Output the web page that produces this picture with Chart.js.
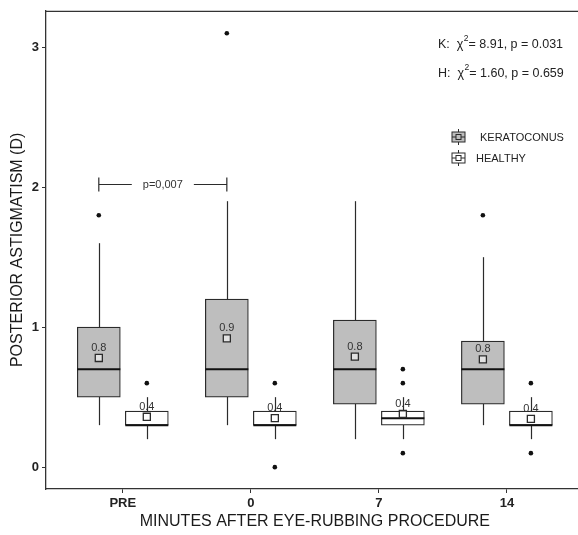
<!DOCTYPE html>
<html>
<head>
<meta charset="utf-8">
<script src="https://cdn.jsdelivr.net/npm/chart.js@4.4.1/dist/chart.umd.min.js"></script>
<style>
  html, body { margin: 0; padding: 0; background: #fff; overflow: hidden; }
  #wrap { width: 590px; height: 535px; position: relative; }
</style>
</head>
<body>
<div id="wrap"><canvas id="astigChart"></canvas></div>
<script>
const categories = ['PRE', '0', '7', '14'];
const xPositions = [1, 2, 3, 4];
const yTicks = [0, 1, 2, 3];

// keratoconus boxes
const kerLow = [0.3, 0.3, 0.2, 0.3];
const kerQ1 = [0.5, 0.5, 0.45, 0.45];
const kerMedian = [0.7, 0.7, 0.7, 0.7];
const kerQ3 = [1.0, 1.2, 1.05, 0.9];
const kerHigh = [1.6, 1.9, 1.9, 1.5];
const kerMean = [0.78, 0.92, 0.79, 0.77];
const kerMeanLabels = ['0.8', '0.9', '0.8', '0.8'];
const kerOutliers = [[1.8], [3.1], [], [1.8]];

// healthy boxes
const hLow = [0.2, 0.2, 0.2, 0.2];
const hQ1 = [0.3, 0.3, 0.3, 0.3];
const hMedian = [0.3, 0.3, 0.35, 0.3];
const hQ3 = [0.4, 0.4, 0.4, 0.4];
const hHigh = [0.5, 0.5, 0.5, 0.5];
const hMean = [0.36, 0.35, 0.38, 0.345];
const hMeanLabels = ['0.4', '0.4', '0.4', '0.4'];
const hOutliers = [[0.6], [0.6, 0.0], [0.7, 0.6, 0.1], [0.6, 0.1]];

const statLines = [
    { pre: 'K:  \u03c7', post: '= 8.91, p = 0.031' },
    { pre: 'H:  \u03c7', post: '= 1.60, p = 0.659' }
];
const bracketValue = 2.02;
const bracketText = 'p=0,007';

const dodge = 0.1875;
const FONT = "'Liberation Sans', Arial, sans-serif";
const INK = '#2b2b2b';

function boxes(q1, q3, shift) {
    return xPositions.map((x, i) => ({ x: x + shift, y: [q1[i], q3[i]] }));
}
function points(vals, shift) {
    return xPositions.map((x, i) => ({ x: x + shift, y: vals[i] }));
}
function outlierPoints(list, shift) {
    const out = [];
    list.forEach((arr, i) => arr.forEach(v => out.push({ x: xPositions[i] + shift, y: v })));
    return out;
}

const groups = [
    { shift: -dodge, low: kerLow, high: kerHigh, median: kerMedian, mean: kerMean, labels: kerMeanLabels },
    { shift: dodge, low: hLow, high: hHigh, median: hMedian, mean: hMean, labels: hMeanLabels }
];

const boxExtras = {
    id: 'boxExtras',
    beforeDatasetsDraw(chart) {
        const { ctx, scales: { x, y } } = chart;
        ctx.save();
        ctx.strokeStyle = INK;
        ctx.lineWidth = 1.2;
        groups.forEach(g => {
            xPositions.forEach((p, i) => {
                const px = Math.round(x.getPixelForValue(p + g.shift)) + 0.5;
                ctx.beginPath();
                ctx.moveTo(px, y.getPixelForValue(g.low[i]));
                ctx.lineTo(px, y.getPixelForValue(g.high[i]));
                ctx.stroke();
            });
        });
        ctx.restore();
    },
    afterDatasetDraw(chart, args) {
        if (args.meta.type !== 'bar') return;
        const g = groups[args.index];
        const { ctx, scales: { y } } = chart;
        ctx.save();
        ctx.strokeStyle = '#111';
        ctx.lineWidth = 2;
        args.meta.data.forEach((bar, i) => {
            const half = bar.width / 2;
            const py = y.getPixelForValue(g.median[i]);
            ctx.beginPath();
            ctx.moveTo(bar.x - half, py);
            ctx.lineTo(bar.x + half, py);
            ctx.stroke();
        });
        ctx.restore();
    },
    afterDraw(chart) {
        const { ctx, chartArea: a, scales: { x, y } } = chart;
        ctx.save();

        // top frame line
        ctx.strokeStyle = '#333';
        ctx.lineWidth = 1.3;
        ctx.beginPath();
        ctx.moveTo(a.left, a.top + 0.5);
        ctx.lineTo(a.right, a.top + 0.5);
        ctx.stroke();

        // mean labels
        ctx.fillStyle = '#333';
        ctx.font = '11px ' + FONT;
        ctx.textAlign = 'center';
        ctx.textBaseline = 'middle';
        groups.forEach(g => {
            xPositions.forEach((p, i) => {
                ctx.fillText(g.labels[i], x.getPixelForValue(p + g.shift), y.getPixelForValue(g.mean[i]) - 10);
            });
        });

        // significance bracket
        const bx1 = x.getPixelForValue(xPositions[0] - dodge);
        const bx2 = x.getPixelForValue(xPositions[1] - dodge);
        const by = Math.round(y.getPixelForValue(bracketValue)) + 0.5;
        const mid = (bx1 + bx2) / 2;
        ctx.font = '11px ' + FONT;
        const gap = ctx.measureText(bracketText).width / 2 + 11;
        ctx.strokeStyle = INK;
        ctx.lineWidth = 1.2;
        ctx.beginPath();
        ctx.moveTo(bx1, by); ctx.lineTo(mid - gap, by);
        ctx.moveTo(mid + gap, by); ctx.lineTo(bx2, by);
        ctx.moveTo(bx1, by - 7); ctx.lineTo(bx1, by + 7);
        ctx.moveTo(bx2, by - 7); ctx.lineTo(bx2, by + 7);
        ctx.stroke();
        ctx.fillStyle = '#333';
        ctx.fillText(bracketText, mid, by);

        // test statistics
        ctx.textAlign = 'left';
        ctx.fillStyle = '#222';
        statLines.forEach((s, k) => {
            const ty = 45 + k * 29;
            ctx.font = '12.5px ' + FONT;
            let tx = 438;
            ctx.fillText(s.pre, tx, ty);
            tx += ctx.measureText(s.pre).width;
            ctx.font = '8.5px ' + FONT;
            ctx.fillText('2', tx + 0.5, ty - 6);
            tx += ctx.measureText('2').width + 0.5;
            ctx.font = '12.5px ' + FONT;
            ctx.fillText(s.post, tx, ty);
        });

        // legend
        const legendItems = [
            { label: 'KERATOCONUS', fill: '#bebebe', ty: 137, tx: 480 },
            { label: 'HEALTHY', fill: '#ffffff', ty: 158, tx: 476 }
        ];
        legendItems.forEach(it => {
            const cx = 458.5, cy = it.ty;
            ctx.strokeStyle = INK;
            ctx.lineWidth = 1;
            ctx.beginPath();
            ctx.moveTo(cx, cy - 8); ctx.lineTo(cx, cy + 8);
            ctx.stroke();
            ctx.fillStyle = it.fill;
            ctx.fillRect(cx - 6.5, cy - 5, 13, 10);
            ctx.strokeRect(cx - 6.5, cy - 5, 13, 10);
            ctx.beginPath();
            ctx.moveTo(cx - 6.5, cy); ctx.lineTo(cx + 6.5, cy);
            ctx.stroke();
            ctx.fillStyle = it.fill;
            ctx.fillRect(cx - 2.5, cy - 2.5, 5, 5);
            ctx.strokeRect(cx - 2.5, cy - 2.5, 5, 5);
            ctx.fillStyle = '#222';
            ctx.font = '11px ' + FONT;
            ctx.textBaseline = 'middle';
            ctx.fillText(it.label, it.tx, cy + 1);
        });

        // axis titles
        ctx.fillStyle = '#1a1a1a';
        ctx.font = '16px ' + FONT;
        ctx.textAlign = 'center';
        ctx.fillText('MINUTES AFTER EYE-RUBBING PROCEDURE', (a.left + a.right) / 2, 522);
        ctx.translate(18, (a.top + a.bottom) / 2);
        ctx.rotate(-Math.PI / 2);
        ctx.fillText('POSTERIOR ASTIGMATISM (D)', 0, 0);

        ctx.restore();
    }
};

const ctx = document.getElementById('astigChart').getContext('2d');

const astigChart = new Chart(ctx, {
    type: 'bar',
    data: {
        datasets: [
            {
                label: 'KERATOCONUS',
                data: boxes(kerQ1, kerQ3, -dodge),
                backgroundColor: '#bebebe',
                borderColor: INK,
                borderWidth: 1.2,
                borderSkipped: false,
                barThickness: 43,
                grouped: false,
                order: 3
            },
            {
                label: 'HEALTHY',
                data: boxes(hQ1, hQ3, dodge),
                backgroundColor: '#ffffff',
                borderColor: INK,
                borderWidth: 1.2,
                borderSkipped: false,
                barThickness: 43,
                grouped: false,
                order: 3
            },
            {
                type: 'scatter',
                label: 'outliers',
                data: outlierPoints(kerOutliers, -dodge).concat(outlierPoints(hOutliers, dodge)),
                backgroundColor: '#111',
                borderWidth: 0,
                pointRadius: 2.3,
                order: 1
            },
            {
                type: 'scatter',
                label: 'means',
                data: points(kerMean, -dodge).concat(points(hMean, dodge)),
                pointStyle: 'rect',
                backgroundColor: 'rgba(255,255,255,0.55)',
                borderColor: INK,
                borderWidth: 1.3,
                pointRadius: 5,
                order: 1
            }
        ]
    },
    options: {
        responsive: true,
        maintainAspectRatio: false,
        animation: false,
        events: [],
        layout: { padding: { left: 0, top: 7, right: 6, bottom: 0 } },
        plugins: {
            legend: { display: false },
            tooltip: { enabled: false }
        },
        scales: {
            x: {
                type: 'linear',
                min: 0.4,
                max: 4.6,
                offset: false,
                afterBuildTicks: s => { s.ticks = xPositions.map(v => ({ value: v })); },
                afterFit: s => { s.height = 46; },
                ticks: {
                    callback: v => categories[xPositions.indexOf(v)],
                    font: { family: FONT, size: 13, weight: 'bold' },
                    color: '#222',
                    padding: 3,
                    maxRotation: 0
                },
                grid: { offset: false, drawOnChartArea: false, drawTicks: true, tickLength: 4, color: '#333' },
                border: { display: true, color: '#333', width: 1.3 }
            },
            y: {
                type: 'linear',
                min: -0.156,
                max: 3.26,
                afterBuildTicks: s => { s.ticks = yTicks.map(v => ({ value: v })); },
                afterFit: s => { s.width = 46; },
                ticks: {
                    font: { family: FONT, size: 13, weight: 'bold' },
                    color: '#222',
                    padding: 3
                },
                grid: { drawOnChartArea: false, drawTicks: true, tickLength: 4, color: '#333' },
                border: { display: true, color: '#333', width: 1.3 }
            }
        }
    },
    plugins: [boxExtras]
});
</script>
</body>
</html>
